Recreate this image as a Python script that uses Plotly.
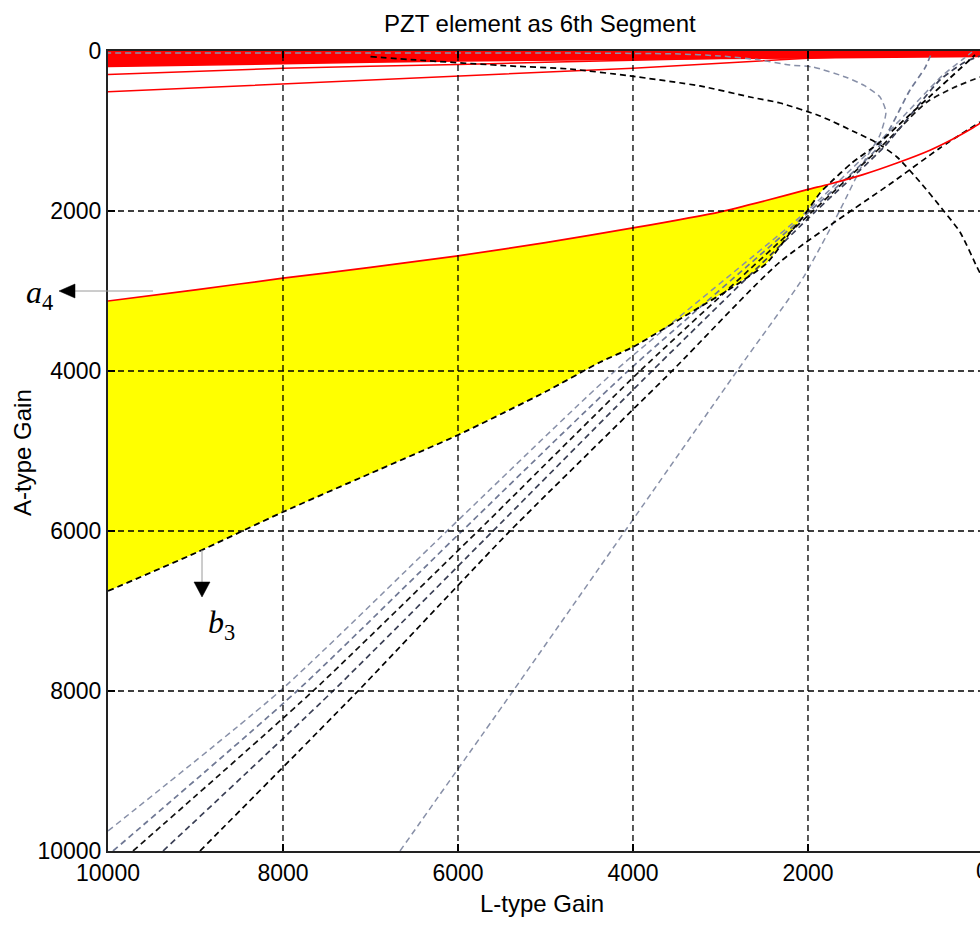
import plotly.graph_objects as go

# ---------------- data ----------------
x_ticks = [10000, 8000, 6000, 4000, 2000]
y_ticks = [0, 2000, 4000, 6000, 8000, 10000]

# a4 boundary (red, solid)
a4_x = [10000, 9000, 8000, 7000, 6000, 5000, 4000, 3000, 2500, 2000, 1760, 1371, 983, 606, 343, 114, 0]
a4_y = [3125, 2985, 2840, 2705, 2560, 2395, 2212, 2010, 1875, 1730, 1665, 1545, 1400, 1240, 1100, 960, 880]

# b3 boundary (black, dashed)
b3_x = [10000, 9000, 8000, 7000, 6000, 5000, 4377, 4000, 3349, 2857, 2469, 2206, 2057, 1863, 1760,
        1500, 1200, 900, 600, 377, 91]
b3_y = [6750, 6275, 5762, 5280, 4800, 4260, 3890, 3700, 3275, 2950, 2650, 2275, 2075, 1775, 1660,
        1400, 1160, 860, 560, 337, 50]
tip_x = 1760

# red curves near A-gain = 0
red_band_x = [10000, 9000, 8000, 7000, 6000, 5000, 4000, 3000, 2000, 1000, 0]
red_band_y = [195, 175, 160, 142, 125, 113, 105, 95, 87, 78, 70]
red1_x = [10000, 9000, 8000, 7000, 6000, 5000, 4000, 2000, 0]
red1_y = [295, 252, 215, 190, 170, 140, 115, 65, 25]
red2_x = [10000, 9000, 8000, 7000, 6000, 5000, 4000, 2700, 2000, 1000, 0]
red2_y = [510, 462, 410, 365, 320, 268, 215, 133, 90, 50, 20]

# black dashed dome curve
dome_x = [7000, 6480, 5406, 4720, 4034, 3234, 2663, 2320, 1863, 1440, 1211, 983, 720, 457, 263, 69, 0]
dome_y = [70, 112, 187, 225, 312, 437, 575, 650, 812, 1025, 1150, 1325, 1637, 1987, 2262, 2700, 2850]

# steep grey curve that bends back along the top
steep_x = [6663, 5371, 4091, 2811, 2057, 1640, 1349, 1177, 1109, 1177, 1349, 1543, 1943, 2206, 2549,
           3006, 3463, 5000, 7000, 9000, 10000]
steep_y = [10000, 8000, 6000, 4000, 2837, 2000, 1362, 1050, 762, 575, 437, 337, 200, 175, 112,
           62, 37, 25, 25, 25, 25]

# bundle of dashed lines (grey / black)
L1_x = [10000, 8034, 6126, 4206, 2011, 1200, 457, 240, 126]
L1_y = [9750, 8000, 6000, 4000, 2000, 1150, 300, 112, 12]
L2_x = [9943, 7840, 5954, 4057, 1977, 1177, 834, 663, 583]
L2_y = [10000, 8000, 6000, 4000, 2000, 1175, 487, 212, 12]
L3_x = [9714, 7657, 5771, 3920, 1943, 1154, 640, 343, 34]
L3_y = [10000, 8000, 6000, 4000, 2000, 1187, 637, 462, 325]
L4_x = [9371, 7429, 5600, 3783, 1909, 1131, 491, 206, 34]
L4_y = [10000, 8000, 6000, 4000, 2000, 1200, 362, 137, 62]
L5_x = [8949, 7143, 5406, 3554, 2320, 1029, 491, 34]
L5_y = [10000, 8000, 6000, 4000, 2637, 1637, 1212, 887]

# ---------------- layout constants ----------------
W, H = 980, 928
ML, MT, PW, PH = 108, 51, 872, 800


def px(xp):
    return (xp - ML) / PW


def py(yp):
    return 1 - (yp - MT) / PH


DASH = "6px,4px"
GREY = "#6f7894"
GREY2 = "#8890a8"
BLACK = "#000000"

fig = go.Figure()

# yellow feasible region between a4 and b3
ka = a4_x.index(tip_x) + 1
kb = b3_x.index(tip_x) + 1
poly_x = a4_x[:ka] + b3_x[:kb][::-1]
poly_y = a4_y[:ka] + b3_y[:kb][::-1]
fig.add_trace(go.Scatter(x=poly_x, y=poly_y, mode="lines", fill="toself",
                         fillcolor="#FFFF00", line=dict(width=0), hoverinfo="skip"))

# red band at top
fig.add_trace(go.Scatter(x=red_band_x, y=red_band_y, mode="lines", fill="tozeroy",
                         fillcolor="#FF0000", line=dict(color="#FF0000", width=1.5)))
fig.add_trace(go.Scatter(x=red1_x, y=red1_y, mode="lines", line=dict(color="#FF0000", width=1.5)))
fig.add_trace(go.Scatter(x=red2_x, y=red2_y, mode="lines", line=dict(color="#FF0000", width=1.5)))


def dashed(x, y, color, w=1.7):
    fig.add_trace(go.Scatter(x=x, y=y, mode="lines",
                             line=dict(color=color, width=w, dash=DASH, shape="spline", smoothing=0.6)))


dashed(steep_x, steep_y, GREY2, 1.5)
dashed(dome_x, dome_y, BLACK)
dashed(L1_x, L1_y, GREY2, 1.5)
dashed(L2_x, L2_y, GREY)
dashed(L3_x, L3_y, "#111111")
dashed(L4_x, L4_y, "#3a3f55")
dashed(L5_x, L5_y, BLACK)
dashed(b3_x, b3_y, BLACK, 1.8)

# a4 red line on top
fig.add_trace(go.Scatter(x=a4_x, y=a4_y, mode="lines",
                         line=dict(color="#FF0000", width=1.7, shape="spline", smoothing=0.6)))

# ---------------- grid (drawn above, as in the original) ----------------
shapes = []
for gx in x_ticks[1:]:
    shapes.append(dict(type="line", xref="x", yref="paper", x0=gx, x1=gx, y0=0, y1=1,
                       line=dict(color="black", width=1.3, dash=DASH), layer="above"))
for gy in y_ticks[1:-1]:
    shapes.append(dict(type="line", xref="paper", yref="y", x0=0, x1=1, y0=gy, y1=gy,
                       line=dict(color="black", width=1.3, dash=DASH), layer="above"))

# annotation arrows a4 / b3
shapes.append(dict(type="line", xref="paper", yref="paper", x0=px(74), x1=px(153), y0=py(291), y1=py(291),
                   line=dict(color="#9a9a9a", width=1), layer="above"))
shapes.append(dict(type="path", xref="paper", yref="paper",
                   path=f"M {px(59)},{py(291)} L {px(75)},{py(284)} L {px(75)},{py(298)} Z",
                   fillcolor="black", line=dict(color="black", width=0.5), layer="above"))
shapes.append(dict(type="line", xref="paper", yref="paper", x0=px(202), x1=px(202), y0=py(550), y1=py(583),
                   line=dict(color="#9a9a9a", width=1), layer="above"))
shapes.append(dict(type="path", xref="paper", yref="paper",
                   path=f"M {px(194)},{py(582)} L {px(210)},{py(582)} L {px(202)},{py(597)} Z",
                   fillcolor="black", line=dict(color="black", width=0.5), layer="above"))

SANS = "Liberation Sans, Arial, sans-serif"
SERIF = "Liberation Serif, Times New Roman, serif"

annotations = [
    dict(text="PZT element as 6th Segment", x=px(540), y=py(23), xref="paper", yref="paper",
         showarrow=False, font=dict(family=SANS, size=24, color="black"), xanchor="center", yanchor="middle"),
    dict(text="L-type Gain", x=px(542), y=py(903), xref="paper", yref="paper",
         showarrow=False, font=dict(family=SANS, size=24, color="black"), xanchor="center", yanchor="middle"),
    dict(text="A-type Gain", x=px(23), y=py(453), xref="paper", yref="paper", textangle=-90,
         showarrow=False, font=dict(family=SANS, size=24, color="black"), xanchor="center", yanchor="middle"),
    dict(text="0", x=px(983), y=py(871), xref="paper", yref="paper",
         showarrow=False, font=dict(family=SANS, size=23, color="black"), xanchor="center", yanchor="middle"),
    dict(text="<i>a</i><sub>4</sub>", x=px(24), y=py(294), xref="paper", yref="paper",
         showarrow=False, font=dict(family=SERIF, size=32, color="black"), xanchor="left", yanchor="middle"),
    dict(text="<i>b</i><sub>3</sub>", x=px(206), y=py(624), xref="paper", yref="paper",
         showarrow=False, font=dict(family=SERIF, size=32, color="black"), xanchor="left", yanchor="middle"),
]

fig.update_layout(
    width=W, height=H,
    margin=dict(l=ML, r=W - ML - PW, t=MT, b=H - MT - PH, pad=0),
    paper_bgcolor="white", plot_bgcolor="white",
    showlegend=False,
    shapes=shapes, annotations=annotations,
    xaxis=dict(range=[10000, 34], tickvals=x_ticks, ticktext=[str(v) for v in x_ticks],
               showgrid=False, zeroline=False, showline=True, linecolor="#222", linewidth=2,
               mirror="ticks", ticks="inside", ticklen=7, tickwidth=1.5, tickcolor="black",
               tickfont=dict(family=SANS, size=23, color="black"), layer="above traces"),
    yaxis=dict(range=[10000, 0], tickvals=y_ticks, ticktext=[str(v) for v in y_ticks],
               showgrid=False, zeroline=False, showline=True, linecolor="#222", linewidth=2,
               mirror=False, ticks="inside", ticklen=7, tickwidth=1.5, tickcolor="black",
               tickfont=dict(family=SANS, size=23, color="black"), layer="above traces"),
)

fig.write_html("out.html")
